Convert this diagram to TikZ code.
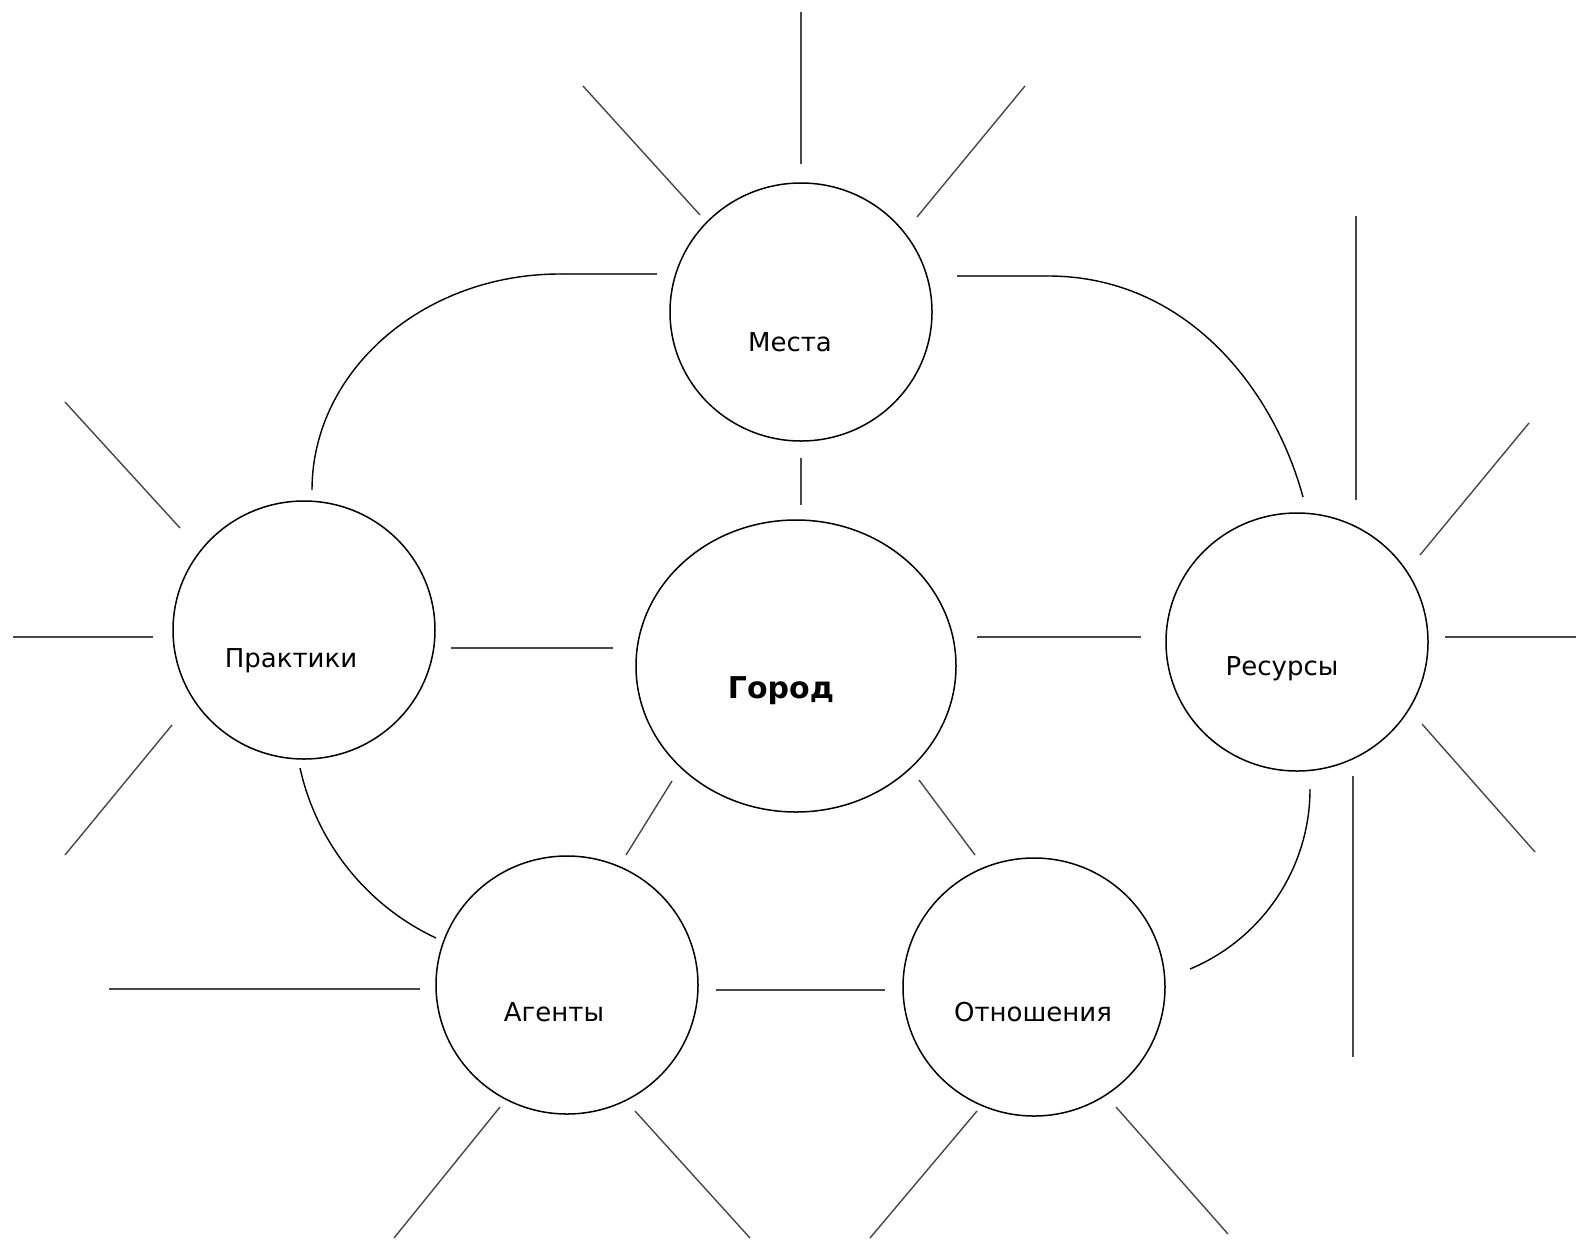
\documentclass[tikz,border=0pt]{standalone}
\usepackage{fontspec}
\setmainfont{DejaVu Sans}
\usetikzlibrary{shapes.geometric}
\tikzset{
  bubble/.style={draw=black, line width=1.5pt, ellipse, minimum width=262pt, minimum height=258pt, inner sep=0pt},
  bigbubble/.style={draw=black, line width=1.5pt, ellipse, minimum width=320pt, minimum height=292pt, inner sep=0pt},
  lbl/.style={font=\fontsize{26}{30}\selectfont, inner sep=0pt},
  biglbl/.style={font=\fontsize{30}{34}\selectfont\bfseries, inner sep=0pt},
  link/.style={draw=black!72, line width=1.4pt},
  arc/.style={draw=black, line width=1.4pt}
}
\begin{document}
\begin{tikzpicture}[x=1pt,y=-1pt]
\useasboundingbox[fill=white] (0,0) rectangle (1576,1240);
% circles
\node[bubble] (M) at (801,312) {};
\node[bigbubble] (G) at (796,666) {};
\node[bubble] (P) at (304,630) {};
\node[bubble] (R) at (1297,642) {};
\node[bubble] (A) at (567,985) {};
\node[bubble] (O) at (1034,987) {};
% labels
\node[lbl] (tM) at (790,342) {Места};
\node[biglbl] (tG) at (781,691) {Город};
\node[lbl] (tP) at (291,661) {Практики};
\node[lbl] (tR) at (1282,669) {Ресурсы};
\node[lbl] (tA) at (554,1012) {Агенты};
\node[lbl] (tO) at (1033,1012) {Отношения};
% endpoints
\coordinate (m1a) at (801,12);   \coordinate (m1b) at (801,164);
\coordinate (m2a) at (583,86);   \coordinate (m2b) at (700,215);
\coordinate (m3a) at (1025,86);  \coordinate (m3b) at (917,217);
\coordinate (mga) at (801,458);  \coordinate (mgb) at (801,505);
\coordinate (la) at (657,274);   \coordinate (lb) at (560,274);  \coordinate (lc) at (312,490);
\coordinate (ra) at (957,276);   \coordinate (rb) at (1048,276); \coordinate (rc) at (1303,497);
\coordinate (p1a) at (65,402);   \coordinate (p1b) at (180,528);
\coordinate (p2a) at (13,637);   \coordinate (p2b) at (153,637);
\coordinate (p3a) at (172,725);  \coordinate (p3b) at (65,855);
\coordinate (pga) at (451,648);  \coordinate (pgb) at (613,648);
\coordinate (gra) at (977,637);  \coordinate (grb) at (1141,637);
\coordinate (r1a) at (1356,216); \coordinate (r1b) at (1356,500);
\coordinate (r2a) at (1420,555); \coordinate (r2b) at (1529,423);
\coordinate (r3a) at (1445,637); \coordinate (r3b) at (1576,637);
\coordinate (r4a) at (1422,724); \coordinate (r4b) at (1535,852);
\coordinate (r5a) at (1353,776); \coordinate (r5b) at (1353,1057);
\coordinate (gaa) at (672,781);  \coordinate (gab) at (626,855);
\coordinate (goa) at (919,780);  \coordinate (gob) at (975,855);
\coordinate (paa) at (300,768);  \coordinate (pab) at (436,938);
\coordinate (aoa) at (716,990);  \coordinate (aob) at (885,990);
\coordinate (a0a) at (109,989);  \coordinate (a0b) at (420,989);
\coordinate (roa) at (1310,789); \coordinate (rob) at (1190,969);
\coordinate (a1a) at (500,1107); \coordinate (a1b) at (394,1238);
\coordinate (a2a) at (635,1111); \coordinate (a2b) at (750,1238);
\coordinate (o1a) at (977,1111); \coordinate (o1b) at (870,1238);
\coordinate (o2a) at (1116,1107);\coordinate (o2b) at (1228,1234);
% straight connectors
\foreach \s in {m1,m2,m3,mg,p1,p2,p3,pg,gr,r1,r2,r3,r4,r5,ga,go,ao,a0,a1,a2,o1,o2}
  \draw[link] (\s a) -- (\s b);
% arcs
\draw[link] (la) -- (lb);
\draw[arc] (lb) .. controls (423,274) and (312,371) .. (lc);
\draw[link] (ra) -- (rb);
\draw[arc] (rb) .. controls (1185,276) and (1273,387) .. (rc);
\draw[arc] (paa) .. controls (316.6,842.7) and (366.8,905.6) .. (pab);
\draw[arc] (roa) .. controls (1310,867.7) and (1262.6,938.7) .. (rob);
\end{tikzpicture}
\end{document}
